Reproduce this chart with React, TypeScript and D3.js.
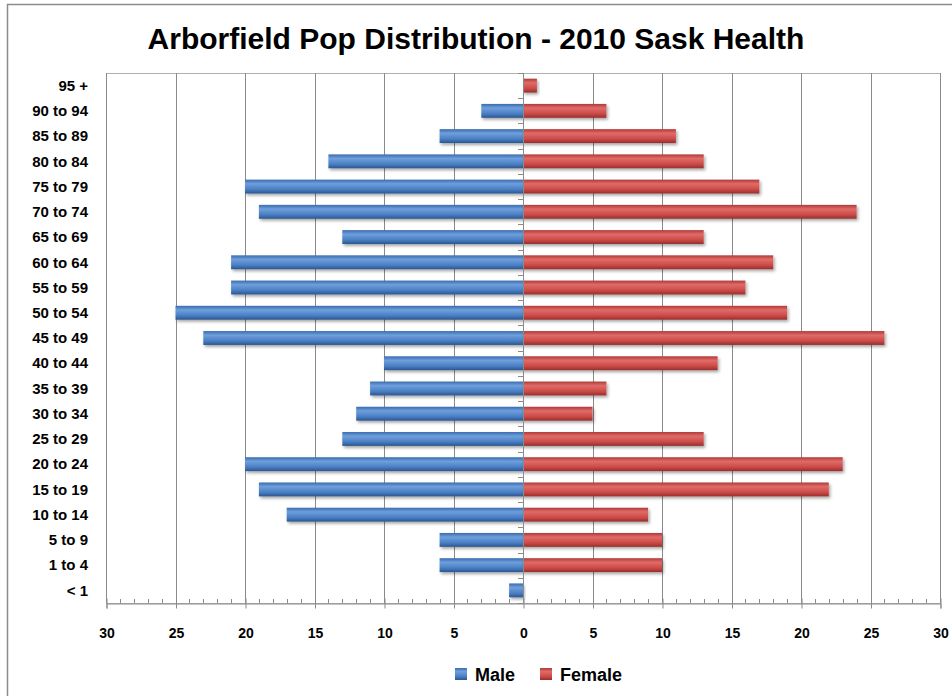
import React, { useRef, useEffect } from 'react';
import * as d3 from 'd3';

// age groups, top to bottom as drawn
const ageGroups = [
  '95 +', '90 to 94', '85 to 89', '80 to 84', '75 to 79', '70 to 74', '65 to 69',
  '60 to 64', '55 to 59', '50 to 54', '45 to 49', '40 to 44', '35 to 39', '30 to 34',
  '25 to 29', '20 to 24', '15 to 19', '10 to 14', '5 to 9', '1 to 4', '< 1',
];
const male = [0, 3, 6, 14, 20, 19, 13, 21, 21, 25, 23, 10, 11, 12, 13, 20, 19, 17, 6, 6, 1];
const female = [1, 6, 11, 13, 17, 24, 13, 18, 16, 19, 26, 14, 6, 5, 13, 23, 22, 9, 10, 10, 0];
const xTicks = [-30, -25, -20, -15, -10, -5, 0, 5, 10, 15, 20, 25, 30];
const seriesNames = ['Male', 'Female'];

const W = 952;
const H = 696;
const FONT = "'Liberation Sans', Arial, sans-serif";

const App = () => {
  const ref = useRef<SVGSVGElement>(null);

  useEffect(() => {
    const svg = d3.select(ref.current);
    svg.selectAll('*').remove();

    const plot = { left: 106, right: 940, top: 73, bottom: 603 };

    const defs = svg.append('defs');
    const grad = (id: string, c0: string, c1: string, c2: string, c3: string) => {
      const g = defs.append('linearGradient').attr('id', id)
        .attr('x1', 0).attr('y1', 0).attr('x2', 0).attr('y2', 1);
      g.append('stop').attr('offset', '0%').attr('stop-color', c0);
      g.append('stop').attr('offset', '30%').attr('stop-color', c1);
      g.append('stop').attr('offset', '70%').attr('stop-color', c2);
      g.append('stop').attr('offset', '100%').attr('stop-color', c3);
    };
    grad('gMale', '#3a6cb0', '#6f9fdc', '#4a7fc4', '#2b5690');
    grad('gFemale', '#b03a38', '#e06b68', '#cc4b48', '#962f2d');
    const f = defs.append('filter').attr('id', 'shadow').attr('x', '-10%').attr('y', '-30%')
      .attr('width', '130%').attr('height', '180%');
    f.append('feDropShadow').attr('dx', 1.5).attr('dy', 2).attr('stdDeviation', 1.5)
      .attr('flood-color', '#000').attr('flood-opacity', 0.35);

    // outer chart border (cropped on right/bottom)
    svg.append('rect').attr('x', 7.5).attr('y', 4.5).attr('width', W + 20).attr('height', H + 20)
      .attr('fill', '#fff').attr('stroke', '#8c8c8c').attr('stroke-width', 1.5);

    svg.append('text')
      .attr('x', 476).attr('y', 49)
      .attr('text-anchor', 'middle')
      .attr('font-family', FONT)
      .attr('font-weight', 'bold')
      .attr('font-size', 30)
      .text('Arborfield Pop Distribution - 2010 Sask Health');

    const x = d3.scaleLinear().domain([-30, 30]).range([plot.left, plot.right]);
    const y = d3.scaleBand().domain(ageGroups).range([plot.top, plot.bottom]).paddingInner(0.45).paddingOuter(0.225);
    const yb = d3.scaleBand().domain(ageGroups).range([plot.top, plot.bottom]);

    // plot area border
    svg.append('rect')
      .attr('x', plot.left + 0.5).attr('y', plot.top + 0.5)
      .attr('width', plot.right - plot.left).attr('height', plot.bottom - plot.top)
      .attr('fill', 'none').attr('stroke', '#b0b0b0');

    // vertical gridlines
    svg.append('g').selectAll('line').data(xTicks).enter().append('line')
      .attr('x1', d => Math.round(x(d)) + 0.5).attr('x2', d => Math.round(x(d)) + 0.5)
      .attr('y1', plot.top).attr('y2', plot.bottom)
      .attr('stroke', '#8a8a8a').attr('stroke-width', 1);

    // x axis
    const xAxis = svg.append('g')
      .attr('transform', `translate(0.5,${plot.bottom + 0.5})`)
      .call(d3.axisBottom(x).tickValues(xTicks).tickSize(5).tickFormat(d => String(Math.abs(+d))));
    xAxis.select('.domain').attr('stroke', '#8a8a8a');
    xAxis.selectAll('.tick line').attr('stroke', '#8a8a8a').attr('y1', -5).attr('y2', 5);
    xAxis.selectAll('.tick text')
      .attr('font-family', FONT).attr('font-weight', 'bold').attr('font-size', 14)
      .attr('fill', '#000').attr('dy', 0).attr('y', 34);
    const minor = d3.range(-30, 31).filter(v => v % 5 !== 0);
    svg.append('g').selectAll('line').data(minor).enter().append('line')
      .attr('x1', d => Math.round(x(d)) + 0.5).attr('x2', d => Math.round(x(d)) + 0.5)
      .attr('y1', plot.bottom - 4).attr('y2', plot.bottom)
      .attr('stroke', '#8a8a8a');

    // category axis at zero with small ticks
    svg.append('g').selectAll('line').data(d3.range(ageGroups.length + 1)).enter().append('line')
      .attr('x1', Math.round(x(0)) - 5).attr('x2', Math.round(x(0)))
      .attr('y1', i => Math.round(plot.top + i * yb.step()) + 0.5)
      .attr('y2', i => Math.round(plot.top + i * yb.step()) + 0.5)
      .attr('stroke', '#8a8a8a');

    // category labels
    svg.append('g').selectAll('text').data(ageGroups).enter().append('text')
      .attr('x', 88).attr('y', d => (yb(d) as number) + yb.bandwidth() / 2)
      .attr('dy', '0.35em')
      .attr('text-anchor', 'end')
      .attr('font-family', FONT).attr('font-weight', 'bold').attr('font-size', 15)
      .text(d => d);

    // bars
    svg.append('g').selectAll('rect').data(ageGroups.map((g, i) => ({ g, v: male[i] }))).enter()
      .append('rect')
      .attr('x', d => x(-d.v)).attr('y', d => y(d.g) as number)
      .attr('width', d => x(0) - x(-d.v)).attr('height', y.bandwidth())
      .attr('fill', 'url(#gMale)').attr('filter', 'url(#shadow)')
      .attr('display', d => (d.v ? null : 'none'));
    svg.append('g').selectAll('rect').data(ageGroups.map((g, i) => ({ g, v: female[i] }))).enter()
      .append('rect')
      .attr('x', x(0)).attr('y', d => y(d.g) as number)
      .attr('width', d => x(d.v) - x(0)).attr('height', y.bandwidth())
      .attr('fill', 'url(#gFemale)').attr('filter', 'url(#shadow)')
      .attr('display', d => (d.v ? null : 'none'));

    // zero line on top
    svg.append('line')
      .attr('x1', Math.round(x(0)) + 0.5).attr('x2', Math.round(x(0)) + 0.5)
      .attr('y1', plot.top).attr('y2', plot.bottom)
      .attr('stroke', '#8a8a8a');

    // legend
    const legend = svg.append('g');
    const lx = [455, 540];
    seriesNames.forEach((name, i) => {
      legend.append('rect').attr('x', lx[i]).attr('y', 668).attr('width', 12).attr('height', 12)
        .attr('fill', i === 0 ? 'url(#gMale)' : 'url(#gFemale)');
      legend.append('text').attr('x', lx[i] + 20).attr('y', 681)
        .attr('font-family', FONT).attr('font-weight', 'bold').attr('font-size', 18)
        .text(name);
    });
  }, []);

  return (
    <div style={{ position: 'fixed', left: 0, top: 0, width: W, height: H, overflow: 'hidden' }}>
      <svg ref={ref} width={W} height={H} style={{ display: 'block' }} />
    </div>
  );
};

export default App;
